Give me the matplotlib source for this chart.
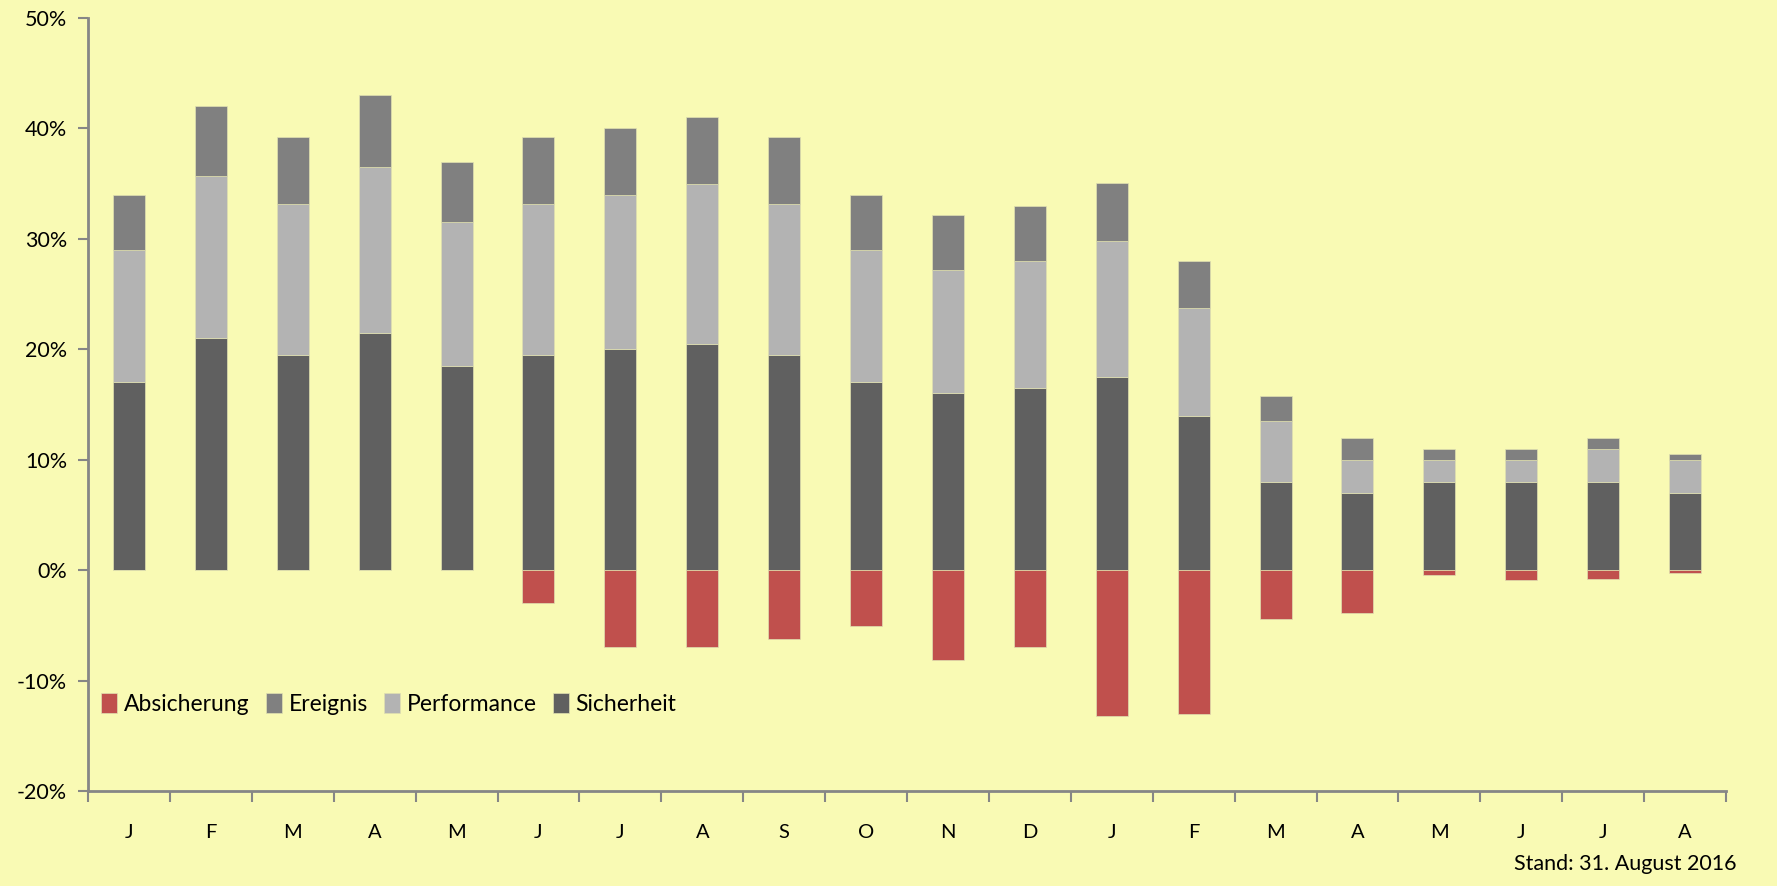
import matplotlib
matplotlib.use("Agg")
import matplotlib.pyplot as plt
import numpy as np
from matplotlib.ticker import FixedLocator, FuncFormatter

months = ["J", "F", "M", "A", "M", "J", "J", "A", "S", "O",
          "N", "D", "J", "F", "M", "A", "M", "J", "J", "A"]
sicherheit = [17, 21, 19.5, 21.5, 18.5, 19.5, 20, 20.5, 19.5, 17,
              16, 16.5, 17.5, 14, 8, 7, 8, 8, 8, 7]
performance = [12, 14.7, 13.7, 15, 13, 13.7, 14, 14.5, 13.7, 12,
               11.2, 11.5, 12.3, 9.7, 5.5, 3, 2, 2, 3, 3]
ereignis = [5, 6.3, 6, 6.5, 5.5, 6, 6, 6, 6, 5,
            5, 5, 5.3, 4.3, 2.3, 2, 1, 1, 1, 0.5]
absicherung = [0, 0, 0, 0, 0, -3, -7, -7, -6.2, -5.1,
               -8.1, -7, -13.2, -13, -4.4, -3.9, -0.4, -0.9, -0.8, -0.3]
yticks = [-20, -10, 0, 10, 20, 30, 40, 50]

c_abs = "#C0504D"
c_ere = "#808080"
c_perf = "#B3B3B3"
c_sich = "#606060"
bg = "#F9FAB4"
axc = "#868686"

plt.rcParams['font.family'] = ['Lato', 'DejaVu Sans']

fig = plt.figure(figsize=(17.77, 8.86), dpi=100, facecolor=bg)
ax = fig.add_axes([88/1777, 1-791/886, (1726-88)/1777, (791-18)/886])
ax.set_facecolor(bg)

x = np.arange(len(months))
s = np.array(sicherheit)
p = np.array(performance)
e = np.array(ereignis)
a = np.array(absicherung)
w = 0.39
ec = "#E0E0B0"
lw = 0.5
ax.bar(x, s, w, color=c_sich, edgecolor=ec, linewidth=lw, label="Sicherheit", zorder=3)
ax.bar(x, p, w, bottom=s, color=c_perf, edgecolor=ec, linewidth=lw, label="Performance", zorder=3)
ax.bar(x, e, w, bottom=s+p, color=c_ere, edgecolor=ec, linewidth=lw, label="Ereignis", zorder=3)
ax.bar(x, a, w, color=c_abs, edgecolor=ec, linewidth=lw, label="Absicherung", zorder=3)

ax.set_xlim(-0.5, len(months)-0.5)
ax.set_ylim(-20, 50)

ax.set_yticks(yticks)
ax.yaxis.set_major_formatter(FuncFormatter(lambda v, pos: f"{int(v)}%"))
ax.tick_params(axis='y', direction='out', length=7, width=1.5, color=axc,
               labelsize=15.5, labelcolor="black", pad=8)

ax.xaxis.set_major_locator(FixedLocator(np.arange(len(months)+1)-0.5))
ax.xaxis.set_minor_locator(FixedLocator(x))
ax.set_xticklabels([], minor=False)
ax.set_xticklabels(months, minor=True)
ax.tick_params(axis='x', which='major', direction='out', length=8, width=1.5, color=axc)
ax.tick_params(axis='x', which='minor', length=0, labelsize=14.5, pad=24)

for side in ['top', 'right']:
    ax.spines[side].set_visible(False)
for side in ['left', 'bottom']:
    ax.spines[side].set_color(axc)
    ax.spines[side].set_linewidth(2)

handles, labels = ax.get_legend_handles_labels()
order = [3, 2, 1, 0]
leg = ax.legend([handles[i] for i in order], [labels[i] for i in order],
                ncol=4, loc='center left', bbox_to_anchor=(101/1777, 1-704/886),
                bbox_transform=fig.transFigure, frameon=False, fontsize=16.5,
                handlelength=0.7, handleheight=1.0, handletextpad=0.3,
                columnspacing=0.7, borderaxespad=0, borderpad=0)

fig.text(1737/1777, 1-864/886, "Stand: 31. August 2016", ha='right', va='center',
         fontsize=15.5)

fig.savefig("out.png", dpi=100, facecolor=bg)
